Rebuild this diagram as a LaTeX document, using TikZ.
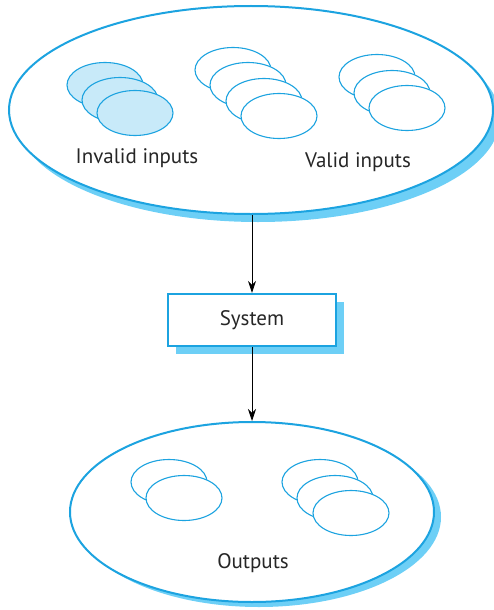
\documentclass[tikz,border=0pt]{standalone}
\usepackage{fontspec}
\setmainfont{PT Sans}
\usetikzlibrary{shapes.geometric,arrows.meta}
\definecolor{edge}{HTML}{1CA3E0}
\definecolor{shade}{HTML}{6DCFF6}
\definecolor{pale}{HTML}{C8EAF9}
\tikzset{
  bigell/.style={ellipse, draw=edge, line width=2pt, fill=white, inner sep=0pt},
  bigshade/.style={ellipse, fill=shade, inner sep=0pt},
  smell/.style={ellipse, draw=edge, line width=1.1pt, fill=white, minimum width=76pt, minimum height=45pt, inner sep=0pt},
  badell/.style={smell, fill=pale},
  sysbox/.style={draw=edge, line width=2.2pt, fill=white, minimum width=168pt, minimum height=52pt, inner sep=0pt},
  sysshade/.style={fill=shade, minimum width=168pt, minimum height=52pt, inner sep=0pt},
  lbl/.style={font=\fontsize{21}{24}\selectfont, text=black!85},
  flow/.style={-{Stealth[length=12pt,width=8pt]}, line width=0.8pt, black}
}
\begin{document}
\begin{tikzpicture}[x=1pt,y=-1pt]
\useasboundingbox (0,0) rectangle (493,610);
% top ellipse
\node[bigshade, minimum width=484pt, minimum height=208pt] (inshade) at (258,118) {};
\node[bigell, minimum width=484pt, minimum height=208pt] (inputs) at (251,110) {};
% invalid group
\node[badell] (i1) at (105,85) {};
\node[badell] (i2) at (120,100) {};
\node[badell] (i3) at (135,113) {};
% valid group a
\node[smell] (v1) at (233,70) {};
\node[smell] (v2) at (248,85) {};
\node[smell] (v3) at (264,101) {};
\node[smell] (v4) at (279,116) {};
% valid group b
\node[smell] (w1) at (377,77) {};
\node[smell] (w2) at (392,93) {};
\node[smell] (w3) at (407,108) {};
\node[lbl] (invlbl) at (137,158) {Invalid inputs};
\node[lbl] (vallbl) at (358,162) {Valid inputs};
% system
\node[sysshade] (sysshade) at (260,328) {};
\node[sysbox, lbl] (sys) at (252,320) {System};
% bottom ellipse
\node[bigshade, minimum width=364pt, minimum height=180pt] (outshade) at (259,517) {};
\node[bigell, minimum width=364pt, minimum height=180pt] (outputs) at (252,512) {};
\node[smell] (o1) at (169,482) {};
\node[smell] (o2) at (184,498) {};
\node[smell] (p1) at (320,482) {};
\node[smell] (p2) at (335,498) {};
\node[smell] (p3) at (351,513) {};
\node[lbl] (outlbl) at (253,563) {Outputs};
% arrows
\draw[flow] (inputs.south -| sys.north) -- (sys.north);
\draw[flow] (sys.south) -- (outputs.north);
\end{tikzpicture}
\end{document}
